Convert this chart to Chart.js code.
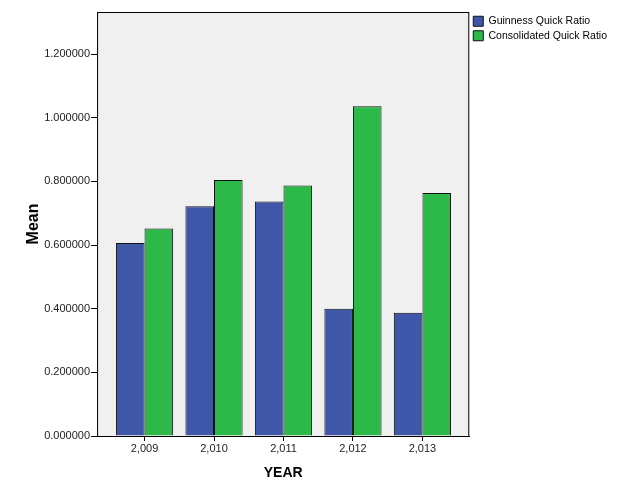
<!DOCTYPE html>
<html>
<head>
<meta charset="utf-8">
<script src="https://cdn.jsdelivr.net/npm/chart.js@4/dist/chart.umd.min.js"></script>
<style>
  html, body { margin: 0; padding: 0; background: #fff; }
  #wrap { width: 627px; height: 502px; }
</style>
</head>
<body>
<div id="wrap"><canvas id="chart" width="627" height="502"></canvas></div>
<script>
// data
const years = [2009, 2010, 2011, 2012, 2013];
const guinness = [0.606, 0.722, 0.737, 0.400, 0.387];
const consolidated = [0.652, 0.804, 0.787, 1.036, 0.763];
const seriesNames = ['Guinness Quick Ratio', 'Consolidated Quick Ratio'];

// plot background + frame
const plotFrame = {
  id: 'plotFrame',
  beforeDatasetsDraw(chart) {
    const a = chart.chartArea, ctx = chart.ctx;
    ctx.save();
    ctx.fillStyle = '#f0f0f0';
    ctx.fillRect(a.left, a.top, a.right - a.left, a.bottom - a.top);
    ctx.restore();
  },
  afterDatasetsDraw(chart) {
    const a = chart.chartArea, ctx = chart.ctx;
    ctx.save();
    ctx.strokeStyle = '#000';
    ctx.lineWidth = 1;
    ctx.strokeRect(a.left + 0.5, a.top + 0.5, a.right - a.left - 1, a.bottom - a.top);
    ctx.restore();
  }
};

const tickFont = { family: 'Arial, "Liberation Sans", sans-serif', size: 11 };
const legendFont = { family: 'Arial, "Liberation Sans", sans-serif', size: 10.5 };
const titleFont = { family: 'Arial, "Liberation Sans", sans-serif', size: 14, weight: 'bold' };
const yTitleFont = { family: 'Arial, "Liberation Sans", sans-serif', size: 16, weight: 'bold' };

new Chart(document.getElementById('chart'), {
  type: 'bar',
  data: {
    datasets: [
      {
        label: seriesNames[0],
        data: years.map((y, i) => ({ x: y, y: guinness[i] })),
        backgroundColor: '#3e57a9',
        borderColor: '#111',
        borderWidth: 1
      },
      {
        label: seriesNames[1],
        data: years.map((y, i) => ({ x: y, y: consolidated[i] })),
        backgroundColor: '#2db84a',
        borderColor: '#111',
        borderWidth: 1
      }
    ]
  },
  options: {
    responsive: false,
    animation: false,
    layout: { padding: { left: 20, right: 10, top: 12, bottom: 16 } },
    datasets: { bar: { categoryPercentage: 0.823, barPercentage: 1 } },
    scales: {
      x: {
        type: 'linear',
        min: 2008.317,
        max: 2013.674,
        offset: false,
        grid: { offset: false, drawOnChartArea: false, drawTicks: true, tickLength: 5, color: '#000' },
        border: { display: true, color: '#000' },
        ticks: {
          stepSize: 1,
          includeBounds: false,
          color: '#222',
          font: tickFont,
          padding: 1,
          maxRotation: 0
        },
        afterBuildTicks(scale) { scale.ticks = years.map(v => ({ value: v })); },
        title: { display: true, text: 'YEAR', color: '#000', font: titleFont, padding: { top: 9 } }
      },
      y: {
        min: 0,
        max: 1.332,
        grid: { drawOnChartArea: false, drawTicks: true, tickLength: 6, color: '#000' },
        border: { display: true, color: '#000' },
        ticks: {
          stepSize: 0.2,
          includeBounds: false,
          color: '#222',
          font: tickFont,
          padding: 1,
          callback: v => Number(v).toFixed(6)
        },
        title: { display: true, text: 'Mean', color: '#000', font: yTitleFont, padding: { bottom: 0 } }
      }
    },
    plugins: {
      tooltip: { enabled: false },
      legend: {
        position: 'right',
        align: 'start',
        labels: {
          boxWidth: 10,
          boxHeight: 10,
          padding: 4,
          color: '#000',
          font: legendFont
        }
      }
    }
  },
  plugins: [plotFrame]
});
</script>
</body>
</html>
